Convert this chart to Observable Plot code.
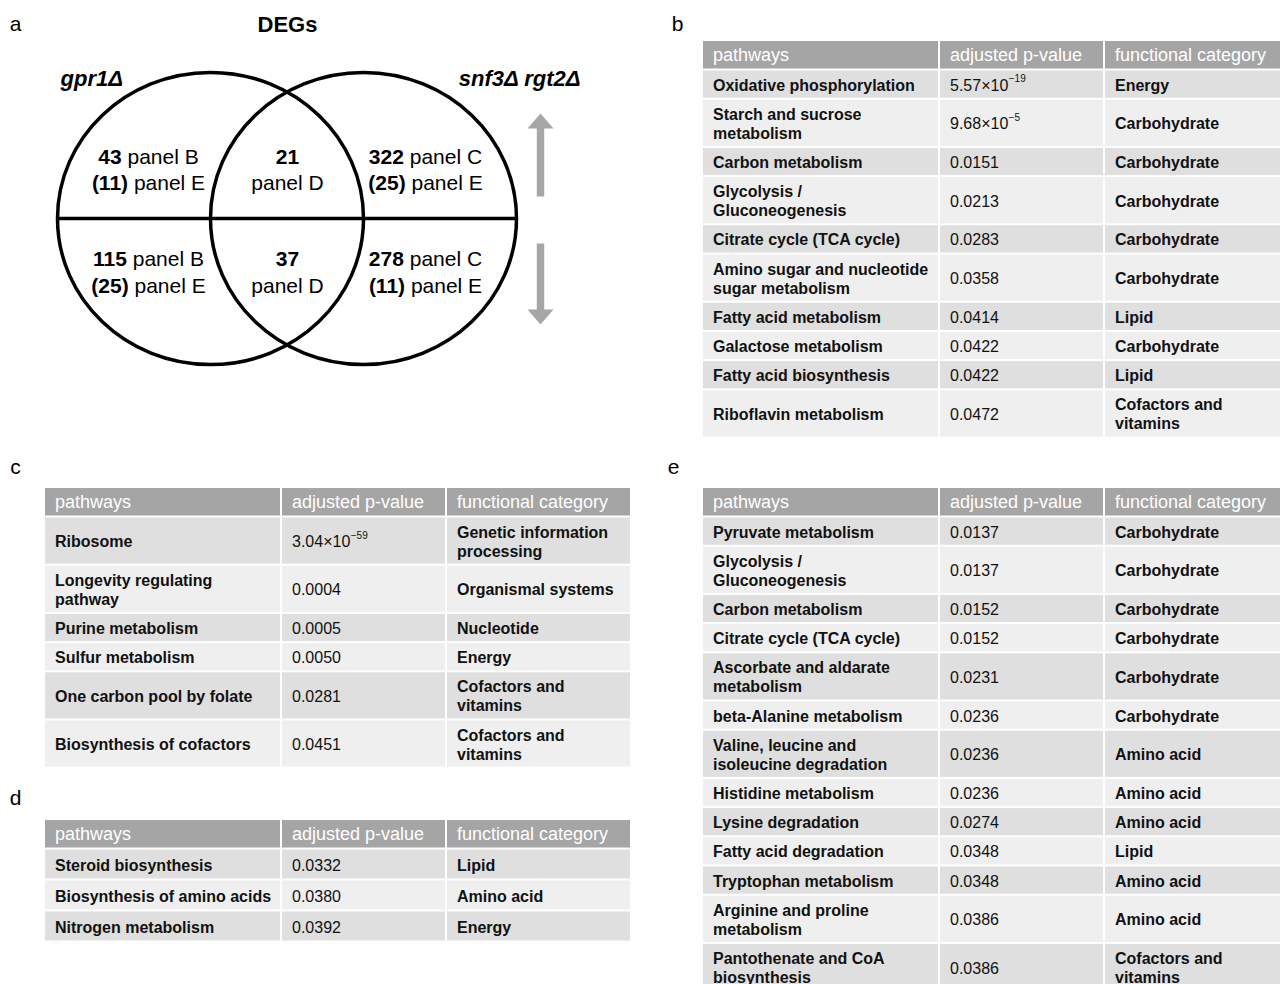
<!DOCTYPE html>
<html><head><meta charset="utf-8">
<script src="https://cdn.jsdelivr.net/npm/d3@7"></script>
<script src="https://cdn.jsdelivr.net/npm/@observablehq/plot@0.6"></script>
<style>body{margin:0;background:#fff} #chart{width:1280px;height:984px;overflow:hidden}</style>
</head><body><div id="chart"></div>
<script>
// ================= DATA =================
const vennTitle = "DEGs";
const setNames = ["gpr1Δ", "snf3Δ rgt2Δ"];
const upCounts = [43, 21, 322];
const downCounts = [115, 37, 278];
const regionPanels = ["panel B", "panel D", "panel C"];
const upSubCounts = [11, null, 25];
const downSubCounts = [25, null, 11];
const subPanel = "panel E";
const panelLetters = ["a", "b", "c", "d", "e"];

const headers = ["pathways", "adjusted p-value", "functional category"];

const bPathways = ["Oxidative phosphorylation", "Starch and sucrose\nmetabolism", "Carbon metabolism", "Glycolysis /\nGluconeogenesis", "Citrate cycle (TCA cycle)", "Amino sugar and nucleotide\nsugar metabolism", "Fatty acid metabolism", "Galactose metabolism", "Fatty acid biosynthesis", "Riboflavin metabolism"];
const bPvalues = [5.57e-19, 9.68e-5, 0.0151, 0.0213, 0.0283, 0.0358, 0.0414, 0.0422, 0.0422, 0.0472];
const bCategories = ["Energy", "Carbohydrate", "Carbohydrate", "Carbohydrate", "Carbohydrate", "Carbohydrate", "Lipid", "Carbohydrate", "Lipid", "Cofactors and\nvitamins"];

const cPathways = ["Ribosome", "Longevity regulating\npathway", "Purine metabolism", "Sulfur metabolism", "One carbon pool by folate", "Biosynthesis of cofactors"];
const cPvalues = [3.04e-59, 0.0004, 0.0005, 0.0050, 0.0281, 0.0451];
const cCategories = ["Genetic information\nprocessing", "Organismal systems", "Nucleotide", "Energy", "Cofactors and\nvitamins", "Cofactors and\nvitamins"];

const dPathways = ["Steroid biosynthesis", "Biosynthesis of amino acids", "Nitrogen metabolism"];
const dPvalues = [0.0332, 0.0380, 0.0392];
const dCategories = ["Lipid", "Amino acid", "Energy"];

const ePathways = ["Pyruvate metabolism", "Glycolysis /\nGluconeogenesis", "Carbon metabolism", "Citrate cycle (TCA cycle)", "Ascorbate and aldarate\nmetabolism", "beta-Alanine metabolism", "Valine, leucine and\nisoleucine degradation", "Histidine metabolism", "Lysine degradation", "Fatty acid degradation", "Tryptophan metabolism", "Arginine and proline\nmetabolism", "Pantothenate and CoA\nbiosynthesis"];
const ePvalues = [0.0137, 0.0137, 0.0152, 0.0152, 0.0231, 0.0236, 0.0236, 0.0236, 0.0274, 0.0348, 0.0348, 0.0386, 0.0386];
const eCategories = ["Carbohydrate", "Carbohydrate", "Carbohydrate", "Carbohydrate", "Carbohydrate", "Carbohydrate", "Amino acid", "Amino acid", "Amino acid", "Lipid", "Amino acid", "Amino acid", "Cofactors and\nvitamins"];

// ================= LAYOUT / STYLE =================
const FONT = "'Liberation Sans', Arial, Helvetica, sans-serif";
const headerFill = "#a5a5a5", rowFills = ["#dfdfdf", "#efefef"];
const colWidths = [235, 163, 183], gap = 2, pad = 9.5, headerH = 27.5, lineStep = 19;
const tableLayout = {
  b: {x: 703, y: 41, pitch: 29.2},
  c: {x: 45, y: 488, pitch: 29.2},
  d: {x: 45, y: 820, pitch: 31},
  e: {x: 703, y: 488, pitch: 29.2}
};
const letterPos = {a: [15, 24], b: [677, 24], c: [15, 467], d: [15, 798], e: [673, 467]};
const venn = {cx: [210, 363], cy: 218, rx: 153, ryRatio: 0.955, titleX: 287, titleY: 24,
  colX: [148, 287, 425], upY: [157, 183], downY: [259, 286], labelY: 78, labelX: [60, 580],
  arrowX: 540, upBase: 196, upLen: 83, downBase: 243, downLen: 81};

const ctx = document.createElement("canvas").getContext("2d");
function tw(s, size, weight = "normal", style = "normal") {
  ctx.font = `${style} ${weight} ${size}px 'Liberation Sans', Arial, sans-serif`;
  return ctx.measureText(s).width;
}
const nLines = s => s.split("\n").length;

// ---- tables ----
const tables = [
  {id: "b", pathways: bPathways, pvalues: bPvalues, categories: bCategories},
  {id: "c", pathways: cPathways, pvalues: cPvalues, categories: cCategories},
  {id: "d", pathways: dPathways, pvalues: dPvalues, categories: dCategories},
  {id: "e", pathways: ePathways, pvalues: ePvalues, categories: eCategories}
];
const cells = [], headerTexts = [], boldTexts = [], plainTexts = [], supTexts = [];
for (const t of tables) {
  const L = tableLayout[t.id];
  const colX = [L.x, L.x + colWidths[0] + gap, L.x + colWidths[0] + colWidths[1] + 2 * gap];
  headers.forEach((h, i) => {
    cells.push({x1: colX[i], x2: colX[i] + colWidths[i], y1: L.y, y2: L.y + headerH, fill: headerFill});
    headerTexts.push({x: colX[i] + pad, y: L.y + headerH / 2, text: h});
  });
  let y = L.y + headerH + gap;
  t.pathways.forEach((p, r) => {
    const lines = Math.max(nLines(p), nLines(t.categories[r]));
    const h = L.pitch - gap + (lines - 1) * lineStep;
    const cy = y + h / 2;
    for (let i = 0; i < 3; i++) cells.push({x1: colX[i], x2: colX[i] + colWidths[i], y1: y, y2: y + h, fill: rowFills[r % 2]});
    boldTexts.push({x: colX[0] + pad, y: cy, text: p});
    boldTexts.push({x: colX[2] + pad, y: cy, text: t.categories[r]});
    const v = t.pvalues[r];
    if (v < 1e-4) {
      const e = Math.floor(Math.log10(v));
      const m = (v / Math.pow(10, e)).toFixed(2);
      const base = `${m}×10`;
      plainTexts.push({x: colX[1] + pad, y: cy, text: base});
      supTexts.push({x: colX[1] + pad + tw(base, 16) + 0.5, y: cy - 5.5, text: "−" + Math.abs(e)});
    } else {
      plainTexts.push({x: colX[1] + pad, y: cy, text: v.toFixed(4)});
    }
    y += h + gap;
  });
}

// ---- venn ----
const sets = setNames.map((name, i) => ({name, cx: venn.cx[i], cy: venn.cy, lx: venn.labelX[i]}));
const ellipseSymbol = {
  draw(context, size) {
    const rx = Math.sqrt(size / Math.PI), ry = rx * venn.ryRatio, k = 0.5522847;
    context.moveTo(rx, 0);
    context.bezierCurveTo(rx, ry * k, rx * k, ry, 0, ry);
    context.bezierCurveTo(-rx * k, ry, -rx, ry * k, -rx, 0);
    context.bezierCurveTo(-rx, -ry * k, -rx * k, -ry, 0, -ry);
    context.bezierCurveTo(rx * k, -ry, rx, -ry * k, rx, 0);
    context.closePath();
  }
};
const VS = 21;
const vennBold = [], vennPlain = [];
function addLine(segs, cx, y) {
  const sp = tw(" ", VS);
  const widths = segs.map(s => tw(s.t, VS, s.b ? "bold" : "normal"));
  const total = d3.sum(widths) + sp * (segs.length - 1);
  let x = cx - total / 2;
  segs.forEach((s, i) => {
    (s.b ? vennBold : vennPlain).push({x, y, text: s.t});
    x += widths[i] + sp;
  });
}
[["up", upCounts, upSubCounts, venn.upY], ["down", downCounts, downSubCounts, venn.downY]].forEach(([dir, counts, subs, ys]) => {
  counts.forEach((c, i) => {
    const cx = venn.colX[i];
    if (subs[i] == null) {
      addLine([{t: String(c), b: true}], cx, ys[0]);
      addLine([{t: regionPanels[i], b: false}], cx, ys[1]);
    } else {
      addLine([{t: String(c), b: true}, {t: regionPanels[i], b: false}], cx, ys[0]);
      addLine([{t: `(${subs[i]})`, b: true}, {t: subPanel, b: false}], cx, ys[1]);
    }
  });
});
const arrows = [
  {dir: "up", x: venn.arrowX, y: venn.upBase, len: venn.upLen, rot: 0},
  {dir: "down", x: venn.arrowX, y: venn.downBase, len: venn.downLen, rot: 180}
];
const arrowShape = {
  draw(context, l) {
    const hw = 3.7, hh = 13, hl = 15;
    context.moveTo(-hw, 0);
    context.lineTo(-hw, -(l - hl));
    context.lineTo(-hh, -(l - hl));
    context.lineTo(0, -l);
    context.lineTo(hh, -(l - hl));
    context.lineTo(hw, -(l - hl));
    context.lineTo(hw, 0);
    context.closePath();
  }
};
const letters = panelLetters.map(l => ({text: l, x: letterPos[l][0], y: letterPos[l][1]}));

// ================= PLOT =================
const chart = Plot.plot({
  width: 1280, height: 984, margin: 0,
  x: {type: "identity", axis: null},
  y: {type: "identity", axis: null},
  length: {type: "identity"},
  style: {fontFamily: FONT, background: "white", overflow: "hidden"},
  marks: [
    Plot.rect(cells, {x1: "x1", x2: "x2", y1: "y1", y2: "y2", fill: d => d.fill}),
    Plot.text(headerTexts, {x: "x", y: "y", text: "text", textAnchor: "start", fill: "white", fontSize: 18}),
    Plot.text(boldTexts, {x: "x", y: "y", text: "text", textAnchor: "start", fill: "#111", fontSize: 16, fontWeight: "bold", lineHeight: lineStep / 16}),
    Plot.text(plainTexts, {x: "x", y: "y", text: "text", textAnchor: "start", fill: "#111", fontSize: 16, lineHeight: lineStep / 16}),
    Plot.text(supTexts, {x: "x", y: "y", text: "text", textAnchor: "start", fill: "#111", fontSize: 10}),
    // venn
    Plot.dot(sets, {x: "cx", y: "cy", r: venn.rx, symbol: ellipseSymbol, stroke: "black", strokeWidth: 3.5, fill: "none"}),
    Plot.ruleY([venn.cy], {x1: venn.cx[0] - venn.rx, x2: venn.cx[1] + venn.rx, stroke: "black", strokeWidth: 3.5}),
    Plot.vector(arrows, {x: "x", y: "y", length: "len", rotate: "rot", anchor: "start", shape: arrowShape, fill: "#a6a6a6", stroke: "none"}),
    Plot.text(vennBold, {x: "x", y: "y", text: "text", textAnchor: "start", fontSize: VS, fontWeight: "bold", fill: "black"}),
    Plot.text(vennPlain, {x: "x", y: "y", text: "text", textAnchor: "start", fontSize: VS, fill: "black"}),
    Plot.text([vennTitle], {x: venn.titleX, y: venn.titleY, text: d => d, fontSize: 22, fontWeight: "bold", fill: "black"}),
    Plot.text(sets.slice(0, 1), {x: "lx", y: venn.labelY, text: "name", textAnchor: "start", fontSize: 22, fontWeight: "bold", fontStyle: "italic", fill: "black"}),
    Plot.text(sets.slice(1), {x: "lx", y: venn.labelY, text: "name", textAnchor: "end", fontSize: 22, fontWeight: "bold", fontStyle: "italic", fill: "black"}),
    Plot.text(letters, {x: "x", y: "y", text: "text", fontSize: 21, fill: "black"})
  ]
});
document.getElementById("chart").appendChild(chart);
</script>
</body></html>
